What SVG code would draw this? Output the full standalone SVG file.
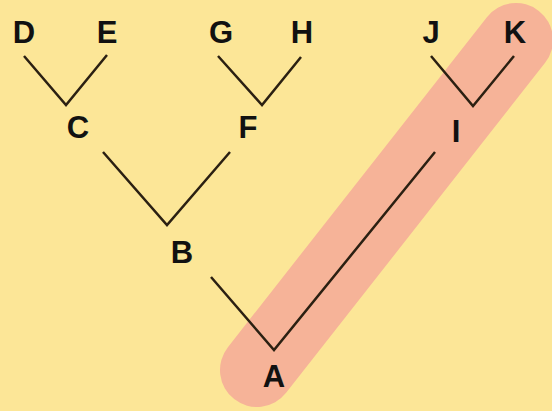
<svg xmlns="http://www.w3.org/2000/svg" width="552" height="411" viewBox="0 0 552 411">
  <style>
    .bg { fill: #fce697; }
    .band { stroke: #f6b398; stroke-width: 74; stroke-linecap: round; fill: none; }
    .edge { stroke: #2b2012; stroke-width: 2.5; fill: none; stroke-linejoin: miter; }
    .lbl { font-family: "Liberation Sans", Arial, sans-serif; font-weight: bold; font-size: 31px; fill: #111; text-anchor: middle; }
  </style>
  <rect class="bg" x="0" y="0" width="552" height="411"/>
  <!-- highlighted lineage from A up to K -->
  <line id="highlight" class="band" x1="257" y1="370" x2="516" y2="40"/>
  <g id="connectors">
    <polyline class="edge" points="24,56 66,105 107,55"/>
    <polyline class="edge" points="218,56 262,105 301,57"/>
    <polyline class="edge" points="431,56 473,106 514,56"/>
    <polyline class="edge" points="103,152 167,225 230,152"/>
    <polyline class="edge" points="211,277 274,350 435,152"/>
  </g>
  <g id="node-D"><text class="lbl" x="24" y="43">D</text></g>
  <g id="node-E"><text class="lbl" x="107" y="43">E</text></g>
  <g id="node-G"><text class="lbl" x="221" y="43">G</text></g>
  <g id="node-H"><text class="lbl" x="302" y="43">H</text></g>
  <g id="node-J"><text class="lbl" x="431" y="43">J</text></g>
  <g id="node-K"><text class="lbl" x="515" y="43">K</text></g>
  <g id="node-C"><text class="lbl" x="78" y="138">C</text></g>
  <g id="node-F"><text class="lbl" x="248" y="138">F</text></g>
  <g id="node-I"><text class="lbl" x="456" y="142">I</text></g>
  <g id="node-B"><text class="lbl" x="182" y="263">B</text></g>
  <g id="node-A"><text class="lbl" x="274" y="387">A</text></g>
</svg>
